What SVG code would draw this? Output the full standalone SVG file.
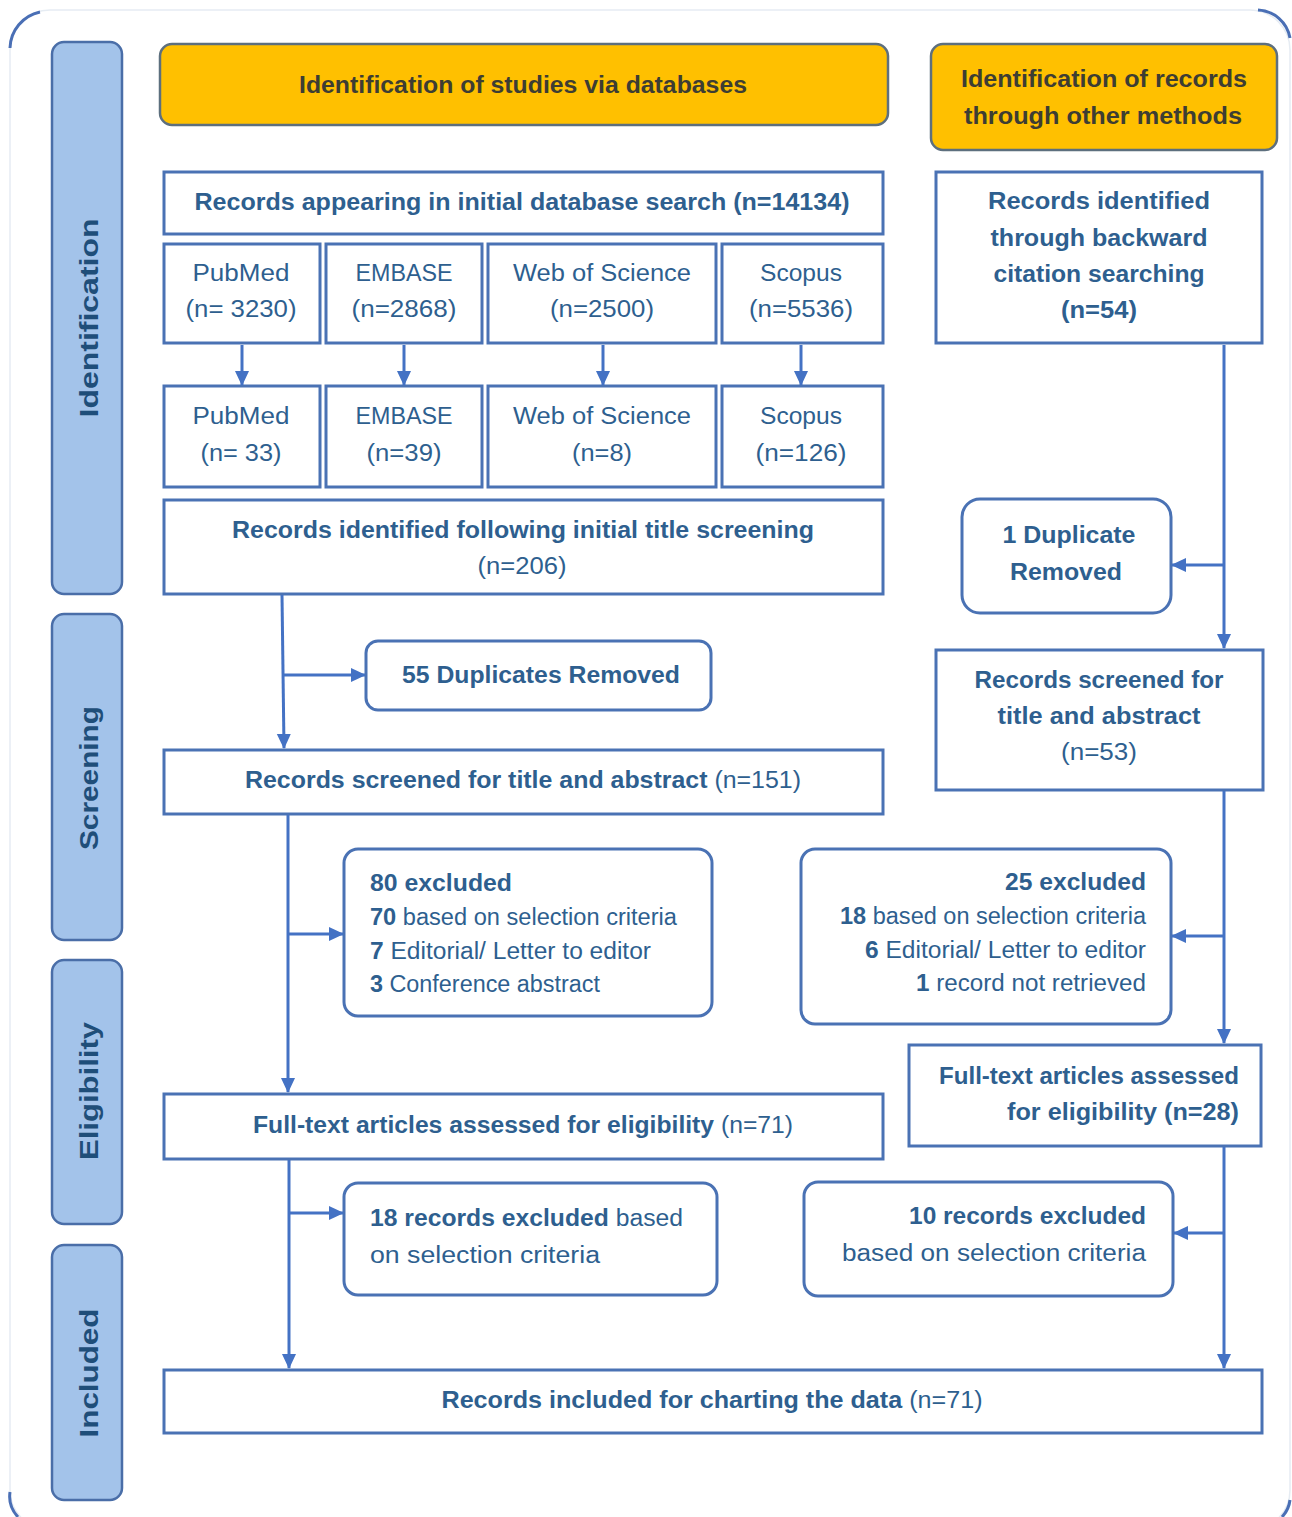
<svg xmlns="http://www.w3.org/2000/svg" width="1292" height="1517" viewBox="0 0 1292 1517">
<defs>
<marker id="ah" markerUnits="userSpaceOnUse" markerWidth="16" markerHeight="16" viewBox="0 0 16 16" refX="14" refY="8" orient="auto">
<path d="M0,1 L15,8 L0,15 Z" fill="#4472c4"/>
</marker>
<style>
.side rect{fill:#a3c3ea;stroke:#4a6ea8;stroke-width:2.5}
.side text{font-family:"Liberation Sans",Arial,sans-serif;font-weight:bold;font-size:26px;fill:#1f4e79;text-anchor:middle;dominant-baseline:central}
.hdr rect{fill:#ffc000;stroke:#5d6f7e;stroke-width:2.5}
.hdr text{font-family:"Liberation Sans",Arial,sans-serif;font-weight:bold;font-size:23px;fill:#3d3d33;text-anchor:middle;dominant-baseline:central}
.box rect{fill:#fff;stroke:#4a72b4;stroke-width:3}
.box text{font-family:"Liberation Sans",Arial,sans-serif;font-size:23px;fill:#2e5f8f;text-anchor:middle;dominant-baseline:central}
.b{font-weight:bold}
.r{font-weight:normal}
.conn{fill:none;stroke:#4472c4;stroke-width:3}
</style>
</defs>
<rect x="0" y="0" width="1292" height="1517" fill="#fff"/>
<g id="frame">
<rect x="10" y="10" width="1280" height="1520" rx="40" fill="none" stroke="#e6ecf3" stroke-width="1.5"/>
<path d="M10,48 A38,38 0 0 1 40,12" fill="none" stroke="#4a6fb5" stroke-width="3"/>
<path d="M1258,10 A34,34 0 0 1 1290,38" fill="none" stroke="#4a6fb5" stroke-width="3"/>
<path d="M10,1492 A30,30 0 0 0 18,1517" fill="none" stroke="#4a6fb5" stroke-width="3"/>
<path d="M1290,1500 A30,30 0 0 1 1282,1517" fill="none" stroke="#4a6fb5" stroke-width="3"/>
</g>

<g id="lane-identification" class="side"><rect x="52" y="42" width="70" height="552" rx="12"/><text transform="translate(89,318) rotate(-90)" textLength="199" lengthAdjust="spacingAndGlyphs">Identification</text></g>
<g id="lane-screening" class="side"><rect x="52" y="614" width="70" height="326" rx="12"/><text transform="translate(89,778) rotate(-90)" textLength="144" lengthAdjust="spacingAndGlyphs">Screening</text></g>
<g id="lane-eligibility" class="side"><rect x="52" y="960" width="70" height="264" rx="12"/><text transform="translate(89,1091) rotate(-90)" textLength="138" lengthAdjust="spacingAndGlyphs">Eligibility</text></g>
<g id="lane-included" class="side"><rect x="52" y="1245" width="70" height="255" rx="12"/><text transform="translate(89,1373) rotate(-90)" textLength="129" lengthAdjust="spacingAndGlyphs">Included</text></g>

<g id="hdr-databases" class="hdr"><rect x="160" y="44" width="728" height="81" rx="12"/><text x="523" y="85" textLength="448" lengthAdjust="spacingAndGlyphs">Identification of studies via databases</text></g>
<g id="hdr-other" class="hdr"><rect x="931" y="44" width="346" height="106" rx="12"/><text x="1104" y="79" textLength="286" lengthAdjust="spacingAndGlyphs">Identification of records</text><text x="1103" y="116" textLength="278" lengthAdjust="spacingAndGlyphs">through other methods</text></g>

<g id="initial-search" class="box"><rect x="164" y="172" width="719" height="62"/><text x="522" y="202" class="b" textLength="655" lengthAdjust="spacingAndGlyphs">Records  appearing in initial database search (n=14134)</text></g>

<g id="pubmed-1" class="box"><rect x="164" y="244" width="156" height="99"/><text x="241" y="273" textLength="97" lengthAdjust="spacingAndGlyphs">PubMed</text><text x="241" y="309" textLength="111" lengthAdjust="spacingAndGlyphs">(n= 3230)</text></g>
<g id="embase-1" class="box"><rect x="326" y="244" width="156" height="99"/><text x="404" y="273" textLength="97" lengthAdjust="spacingAndGlyphs">EMBASE</text><text x="404" y="309" textLength="105" lengthAdjust="spacingAndGlyphs">(n=2868)</text></g>
<g id="wos-1" class="box"><rect x="488" y="244" width="228" height="99"/><text x="602" y="273" textLength="178" lengthAdjust="spacingAndGlyphs">Web of Science</text><text x="602" y="309" textLength="104" lengthAdjust="spacingAndGlyphs">(n=2500)</text></g>
<g id="scopus-1" class="box"><rect x="722" y="244" width="161" height="99"/><text x="801" y="273" textLength="82" lengthAdjust="spacingAndGlyphs">Scopus</text><text x="801" y="309" textLength="104" lengthAdjust="spacingAndGlyphs">(n=5536)</text></g>

<g id="pubmed-2" class="box"><rect x="164" y="386" width="156" height="101"/><text x="241" y="416" textLength="97" lengthAdjust="spacingAndGlyphs">PubMed</text><text x="241" y="453" textLength="81" lengthAdjust="spacingAndGlyphs">(n= 33)</text></g>
<g id="embase-2" class="box"><rect x="326" y="386" width="156" height="101"/><text x="404" y="416" textLength="97" lengthAdjust="spacingAndGlyphs">EMBASE</text><text x="404" y="453" textLength="75" lengthAdjust="spacingAndGlyphs">(n=39)</text></g>
<g id="wos-2" class="box"><rect x="488" y="386" width="228" height="101"/><text x="602" y="416" textLength="178" lengthAdjust="spacingAndGlyphs">Web of Science</text><text x="602" y="453" textLength="60" lengthAdjust="spacingAndGlyphs">(n=8)</text></g>
<g id="scopus-2" class="box"><rect x="722" y="386" width="161" height="101"/><text x="801" y="416" textLength="82" lengthAdjust="spacingAndGlyphs">Scopus</text><text x="801" y="453" textLength="91" lengthAdjust="spacingAndGlyphs">(n=126)</text></g>

<g id="title-screening" class="box"><rect x="164" y="500" width="719" height="94"/><text x="523" y="530" class="b" textLength="582" lengthAdjust="spacingAndGlyphs">Records identified following initial title screening</text><text x="522" y="566" textLength="89" lengthAdjust="spacingAndGlyphs">(n=206)</text></g>

<g id="dup-55" class="box"><rect x="366" y="641" width="345" height="69" rx="12"/><text x="541" y="675" class="b" textLength="278" lengthAdjust="spacingAndGlyphs">55 Duplicates Removed</text></g>

<g id="screened-151" class="box"><rect x="164" y="750" width="719" height="64"/><text x="523" y="780" textLength="556" lengthAdjust="spacingAndGlyphs"><tspan class="b">Records screened for title and abstract </tspan><tspan>(n=151)</tspan></text></g>

<g id="excluded-80" class="box"><rect x="344" y="849" width="368" height="167" rx="14"/>
<text x="370" y="883" class="b" text-anchor="start" style="text-anchor:start" textLength="142" lengthAdjust="spacingAndGlyphs">80 excluded</text>
<text x="370" y="917" style="text-anchor:start" textLength="307" lengthAdjust="spacingAndGlyphs"><tspan class="b">70</tspan> based on selection criteria</text>
<text x="370" y="951" style="text-anchor:start" textLength="281" lengthAdjust="spacingAndGlyphs"><tspan class="b">7</tspan> Editorial/ Letter to editor</text>
<text x="370" y="984" style="text-anchor:start" textLength="230" lengthAdjust="spacingAndGlyphs"><tspan class="b">3</tspan> Conference abstract</text>
</g>

<g id="fulltext-71" class="box"><rect x="164" y="1094" width="719" height="65"/><text x="523" y="1125" textLength="540" lengthAdjust="spacingAndGlyphs"><tspan class="b">Full-text articles assessed for eligibility </tspan><tspan>(n=71)</tspan></text></g>

<g id="excluded-18" class="box"><rect x="344" y="1183" width="373" height="112" rx="14"/>
<text x="370" y="1218" style="text-anchor:start" textLength="313" lengthAdjust="spacingAndGlyphs"><tspan class="b">18 records excluded</tspan> based</text>
<text x="370" y="1255" style="text-anchor:start" textLength="230" lengthAdjust="spacingAndGlyphs">on selection criteria</text>
</g>

<g id="included-71" class="box"><rect x="164" y="1370" width="1098" height="63"/><text x="712" y="1400" textLength="541" lengthAdjust="spacingAndGlyphs"><tspan class="b">Records included for charting the data</tspan>  (n=71)</text></g>

<g id="backward-54" class="box"><rect x="936" y="172" width="326" height="171"/>
<text x="1099" y="201" class="b" textLength="222" lengthAdjust="spacingAndGlyphs">Records  identified</text>
<text x="1099" y="238" class="b" textLength="217" lengthAdjust="spacingAndGlyphs">through backward</text>
<text x="1099" y="274" class="b" textLength="211" lengthAdjust="spacingAndGlyphs">citation searching</text>
<text x="1099" y="310" class="b" textLength="76" lengthAdjust="spacingAndGlyphs">(n=54)</text>
</g>

<g id="dup-1" class="box"><rect x="962" y="499" width="209" height="114" rx="18"/>
<text x="1069" y="535" class="b" textLength="133" lengthAdjust="spacingAndGlyphs">1 Duplicate</text>
<text x="1066" y="572" class="b" textLength="112" lengthAdjust="spacingAndGlyphs">Removed</text>
</g>

<g id="screened-53" class="box"><rect x="936" y="650" width="327" height="140"/>
<text x="1099" y="680" class="b" textLength="249" lengthAdjust="spacingAndGlyphs">Records screened for</text>
<text x="1099" y="716" class="b" textLength="203" lengthAdjust="spacingAndGlyphs">title and abstract</text>
<text x="1099" y="752" textLength="76" lengthAdjust="spacingAndGlyphs">(n=53)</text>
</g>

<g id="excluded-25" class="box"><rect x="801" y="849" width="370" height="175" rx="14"/>
<text x="1146" y="882" class="b" style="text-anchor:end" textLength="141" lengthAdjust="spacingAndGlyphs">25 excluded</text>
<text x="1146" y="916" style="text-anchor:end" textLength="306" lengthAdjust="spacingAndGlyphs"><tspan class="b">18</tspan> based on selection criteria</text>
<text x="1146" y="950" style="text-anchor:end" textLength="281" lengthAdjust="spacingAndGlyphs"><tspan class="b">6</tspan> Editorial/ Letter to editor</text>
<text x="1146" y="983" style="text-anchor:end" textLength="230" lengthAdjust="spacingAndGlyphs"><tspan class="b">1</tspan> record not retrieved</text>
</g>

<g id="fulltext-28" class="box"><rect x="909" y="1045" width="352" height="101"/>
<text x="1239" y="1076" class="b" style="text-anchor:end" textLength="300" lengthAdjust="spacingAndGlyphs">Full-text articles assessed</text>
<text x="1239" y="1112" class="b" style="text-anchor:end" textLength="232" lengthAdjust="spacingAndGlyphs">for eligibility (n=28)</text>
</g>

<g id="excluded-10" class="box"><rect x="804" y="1182" width="369" height="114" rx="14"/>
<text x="1146" y="1216" class="b" style="text-anchor:end" textLength="237" lengthAdjust="spacingAndGlyphs">10 records excluded</text>
<text x="1146" y="1253" style="text-anchor:end" textLength="304" lengthAdjust="spacingAndGlyphs">based on selection criteria</text>
</g>

<g id="connectors" class="conn">
<line x1="242" y1="345" x2="242" y2="385" marker-end="url(#ah)"/>
<line x1="404" y1="345" x2="404" y2="385" marker-end="url(#ah)"/>
<line x1="603" y1="345" x2="603" y2="385" marker-end="url(#ah)"/>
<line x1="801" y1="345" x2="801" y2="385" marker-end="url(#ah)"/>
<line x1="282" y1="595" x2="284" y2="748" marker-end="url(#ah)"/>
<line x1="283" y1="675" x2="365" y2="675" marker-end="url(#ah)"/>
<line x1="288" y1="815" x2="288" y2="1092" marker-end="url(#ah)"/>
<line x1="288" y1="934" x2="343" y2="934" marker-end="url(#ah)"/>
<line x1="289" y1="1160" x2="289" y2="1368" marker-end="url(#ah)"/>
<line x1="289" y1="1213" x2="343" y2="1213" marker-end="url(#ah)"/>
<line x1="1224" y1="345" x2="1224" y2="648" marker-end="url(#ah)"/>
<line x1="1224" y1="565" x2="1172" y2="565" marker-end="url(#ah)"/>
<line x1="1224" y1="791" x2="1224" y2="1043" marker-end="url(#ah)"/>
<line x1="1224" y1="936" x2="1172" y2="936" marker-end="url(#ah)"/>
<line x1="1224" y1="1147" x2="1224" y2="1368" marker-end="url(#ah)"/>
<line x1="1224" y1="1233" x2="1174" y2="1233" marker-end="url(#ah)"/>
</g>
</svg>
